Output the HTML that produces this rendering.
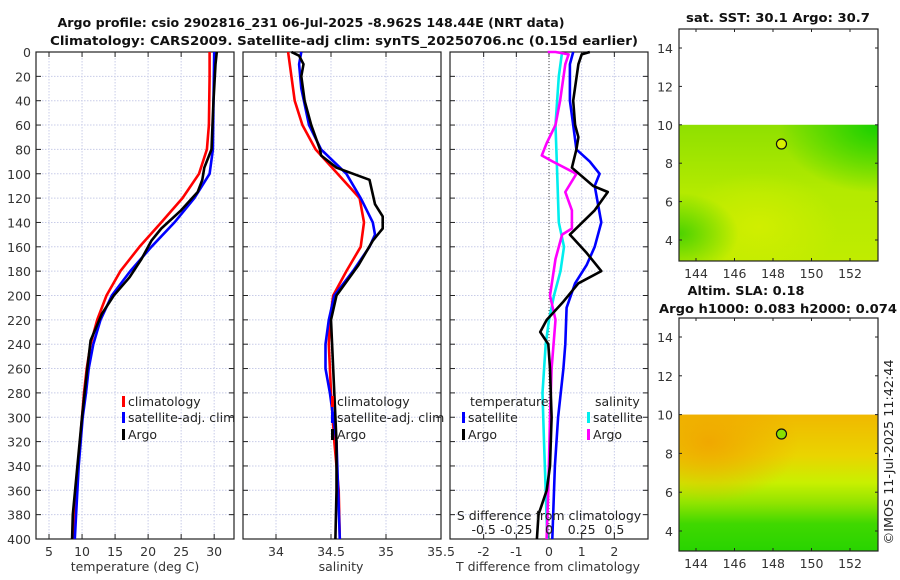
<!DOCTYPE html>
<html><head><meta charset="utf-8">
<style>
html,body{margin:0;padding:0;background:#fff;}
svg{display:block;font-family:"DejaVu Sans","Liberation Sans",sans-serif;}
</style></head>
<body>
<svg id="fig" width="900" height="580" viewBox="0 0 900 580" xmlns="http://www.w3.org/2000/svg">
<defs>
 <linearGradient id="sstg" x1="0" y1="0" x2="0" y2="1">
  <stop offset="0" stop-color="#8fe000"/><stop offset="0.5" stop-color="#b4ea00"/><stop offset="1" stop-color="#c0ec00"/>
 </linearGradient>
 <radialGradient id="sstGreenR" cx="1" cy="0" r="0.5"><stop offset="0" stop-color="#18d000"/><stop offset="1" stop-color="#18d000" stop-opacity="0"/></radialGradient>
 <radialGradient id="sstGreenL" cx="0" cy="0.8" r="0.3"><stop offset="0" stop-color="#30cc00" stop-opacity="0.8"/><stop offset="1" stop-color="#30cc00" stop-opacity="0"/></radialGradient>
 <radialGradient id="sstYel" cx="0.4" cy="0.75" r="0.4"><stop offset="0" stop-color="#d0ee00"/><stop offset="1" stop-color="#d0ee00" stop-opacity="0"/></radialGradient>
 <linearGradient id="slag" x1="0" y1="0" x2="0" y2="1">
  <stop offset="0" stop-color="#f0b800"/><stop offset="0.3" stop-color="#ead400"/><stop offset="0.5" stop-color="#c8f000"/><stop offset="0.65" stop-color="#90e400"/><stop offset="0.8" stop-color="#40d800"/><stop offset="1" stop-color="#28d400"/>
 </linearGradient>
 <radialGradient id="slaOr" cx="0.15" cy="0.2" r="0.45"><stop offset="0" stop-color="#f0a800"/><stop offset="1" stop-color="#f0a800" stop-opacity="0"/></radialGradient>
</defs>
<g id="titles">
 <text x="311" y="27" text-anchor="middle" font-size="12.5" font-weight="bold" fill="#111" textLength="507" lengthAdjust="spacingAndGlyphs">Argo profile: csio 2902816_231 06-Jul-2025 -8.962S 148.44E (NRT data)</text>
 <text x="344" y="45" text-anchor="middle" font-size="12.5" font-weight="bold" fill="#111" textLength="588" lengthAdjust="spacingAndGlyphs">Climatology: CARS2009. Satellite-adj clim: synTS_20250706.nc (0.15d earlier)</text>
</g>
<g id="panels"></g>
<g id="maps"></g>
<text transform="translate(893,452) rotate(-90)" text-anchor="middle" font-size="12.5" fill="#222" textLength="185" lengthAdjust="spacingAndGlyphs">©IMOS 11-Jul-2025 11:42:44</text>
</svg>
<script>
// ---------- data ----------
const depthTicks = [0,20,40,60,80,100,120,140,160,180,200,220,240,260,280,300,320,340,360,380,400];
const tempTicks = [5,10,15,20,25,30];
const salTicks = [34,34.5,35,35.5];
const salTickLabels = ["34","34.5","35","35.5"];
const tdTicks = [-2,-1,0,1,2];
const sdTicks = [-0.5,-0.25,0,0.25,0.5];
const sdTickLabels = ["-0.5","-0.25","0","0.25","0.5"];

const tClimDepth = [0,20,60,80,100,120,140,160,180,200,220,240,260,280,300,340,400];
const tClimVal   = [29.3,29.3,29.2,28.9,27.7,25.2,22,18.7,15.8,13.7,12.3,11.3,10.7,10.3,10,9.4,8.7];
const tSatDepth = [0,40,80,100,120,140,160,180,200,220,240,260,280,300,340,400];
const tSatVal   = [30.0,29.9,29.8,29.3,27,24,20.5,17.3,14.5,12.8,11.7,11,10.6,10.1,9.5,8.9];
const tArgoDepth = [0,10,40,80,95,105,115,130,145,155,170,185,200,215,237,260,300,380,400];
const tArgoVal   = [30.4,30.2,29.9,29.6,28.5,28.2,27.5,25,22,20.5,19,17.2,14.8,13,11.3,10.8,10,8.6,8.5];

const sClimDepth = [0,20,40,60,80,100,120,140,160,180,200,220,240,280,320,360,400];
const sClimVal   = [34.11,34.14,34.17,34.24,34.36,34.56,34.76,34.8,34.77,34.64,34.52,34.49,34.48,34.5,34.53,34.57,34.58];
const sSatDepth = [0,10,30,60,80,100,120,140,150,160,180,200,220,240,260,280,320,400];
const sSatVal   = [34.23,34.21,34.23,34.3,34.41,34.64,34.77,34.88,34.9,34.85,34.7,34.53,34.48,34.45,34.45,34.49,34.55,34.58];
const sArgoDepth = [0,3,10,20,40,60,80,85,95,105,125,135,145,155,175,200,220,260,320,360,400];
const sArgoVal   = [34.14,34.21,34.25,34.23,34.26,34.32,34.4,34.41,34.55,34.85,34.9,34.97,34.97,34.88,34.75,34.55,34.5,34.52,34.55,34.55,34.54];

const dTSatDepth = [0,10,40,60,80,90,100,110,140,160,175,190,210,240,260,300,340,400];
const dTSatVal   = [0.74,0.64,0.64,0.74,0.84,1.25,1.55,1.4,1.6,1.4,1.15,0.8,0.54,0.5,0.44,0.28,0.18,0.1];
const dTArgoDepth = [0,2,10,40,60,70,80,95,110,115,130,150,165,180,190,205,220,230,240,260,300,340,360,380,400];
const dTArgoVal   = [1.25,1.0,0.9,0.74,0.8,0.9,0.84,0.7,1.35,1.8,1.4,0.64,1.15,1.6,0.9,0.44,-0.07,-0.27,-0.02,0.03,0.08,0.03,-0.07,-0.32,-0.37];
const dSSatDepth = [0,20,60,100,140,160,180,200,220,240,280,320,360,400];
const dSSatVal   = [0.1,0.075,0.05,0.063,0.075,0.115,0.088,0.038,0,-0.025,-0.05,-0.038,-0.025,-0.013];
const dSArgoDepth = [0,0,2,10,40,60,75,85,90,100,115,130,145,150,170,200,220,260,300,360,400];
const dSArgoVal   = [-0.01,0.05,0.15,0.125,0.085,0.05,-0.018,-0.055,0.03,0.21,0.125,0.175,0.175,0.1,0.05,0.008,0.05,0.02,0.008,-0.005,-0.018];

// ---------- helpers ----------
const NS = "http://www.w3.org/2000/svg";
function mk(tag, attrs, parent, txt){
  const e = document.createElementNS(NS, tag);
  for (const k in attrs) e.setAttribute(k, attrs[k]);
  if (txt !== undefined) e.textContent = txt;
  parent.appendChild(e); return e;
}
const TOP = 52, BOT = 539;
const FS = 12.5;
const yD = d => TOP + (d/400)*(BOT-TOP);
const panels = document.getElementById('panels');

function panel(name, x0, x1, vmin, vmax){
  const g = mk('g', {}, panels);
  
  
  const sx = v => x0 + (v - vmin)/(vmax - vmin)*(x1 - x0);
  return {g, sx, x0, x1};
}
function frame(p, xticks){
  const g = p.g;
  depthTicks.forEach(d=>{
    const l = mk('line', {x1:p.x0, x2:p.x1, y1:yD(d), y2:yD(d), stroke:'#c8cce8', 'stroke-width':1, 'stroke-dasharray':'1.5,1.5'}, g);
    
    
    mk('line', {x1:p.x0, x2:p.x0+5, y1:yD(d), y2:yD(d), stroke:'#222'}, g);
    mk('line', {x1:p.x1-5, x2:p.x1, y1:yD(d), y2:yD(d), stroke:'#222'}, g);
  });
  xticks.forEach(v=>{
    const x = p.sx(v);
    const l = mk('line', {x1:x, x2:x, y1:TOP, y2:BOT, stroke:'#c8cce8', 'stroke-width':1, 'stroke-dasharray':'1.5,1.5'}, g);
    
    
    mk('line', {x1:x, x2:x, y1:BOT-5, y2:BOT, stroke:'#222'}, g);
    mk('line', {x1:x, x2:x, y1:TOP, y2:TOP+5, stroke:'#222'}, g);
  });
  const r = mk('rect', {x:p.x0, y:TOP, width:p.x1-p.x0, height:BOT-TOP, fill:'none', stroke:'#222', 'stroke-width':1.2}, g);
  
  
}
function xlabels(p, ticks, labels, y){
  ticks.forEach((v,i)=>{
    const t = mk('text', {x:p.sx(v), y:y, 'text-anchor':'middle', 'font-size':FS, fill:'#333'}, p.g, labels ? labels[i] : String(v));
    
    
  });
}
function line(p, sx, vals, depths, color, name, w){
  const pts = vals.map((v,i)=> sx(v).toFixed(1)+','+yD(depths[i]).toFixed(1)).join(' ');
  const pl = mk('polyline', {points:pts, fill:'none', stroke:color, 'stroke-width':w||2.6, 'stroke-linejoin':'round'}, p.g);
  
  
}
function legendEntry(g, x, y, color, label, name){
  const r = mk('rect', {x:x, y:y-10, width:3, height:11, fill:color}, g);
  
  
  const t = mk('text', {x:x+6, y:y, 'font-size':FS, fill:'#222'}, g, label);
  
  
}
const LG1 = 406, LG2 = 422, LG3 = 439;
const TICKY = 556, TITLEY = 571;

// ---- panel 1: temperature ----
const p1 = panel('temperature-panel', 36, 234, 3.03, 33);
frame(p1, tempTicks);
depthTicks.forEach(d=>{
  const t = mk('text', {x:31, y:yD(d)+5, 'text-anchor':'end', 'font-size':FS, fill:'#333'}, p1.g, String(d));
  
  
});
xlabels(p1, tempTicks, null, TICKY);
{const t = mk('text', {x:135, y:TITLEY, 'text-anchor':'middle', 'font-size':FS, fill:'#333'}, p1.g, 'temperature (deg C)');

}
line(p1, p1.sx, tClimVal, tClimDepth, '#ff0000', 'temp-climatology-line');
line(p1, p1.sx, tSatVal, tSatDepth, '#0000ff', 'temp-satellite-line');
line(p1, p1.sx, tArgoVal, tArgoDepth, '#000000', 'temp-argo-line');
{const lg = mk('g', {}, p1.g);


legendEntry(lg, 122, LG1, '#ff0000', 'climatology', 'legend-climatology');
legendEntry(lg, 122, LG2, '#0000ff', 'satellite-adj. clim', 'legend-satellite');
legendEntry(lg, 122, LG3, '#000000', 'Argo', 'legend-argo');}

// ---- panel 2: salinity ----
const p2 = panel('salinity-panel', 243, 441, 33.7, 35.5);
frame(p2, salTicks);
xlabels(p2, salTicks, salTickLabels, TICKY);
{const t = mk('text', {x:341, y:TITLEY, 'text-anchor':'middle', 'font-size':FS, fill:'#333'}, p2.g, 'salinity');

}
line(p2, p2.sx, sClimVal, sClimDepth, '#ff0000', 'sal-climatology-line');
line(p2, p2.sx, sSatVal, sSatDepth, '#0000ff', 'sal-satellite-line');
line(p2, p2.sx, sArgoVal, sArgoDepth, '#000000', 'sal-argo-line');
{const lg = mk('g', {}, p2.g);


legendEntry(lg, 331, LG1, '#ff0000', 'climatology', 'legend-climatology');
legendEntry(lg, 331, LG2, '#0000ff', 'satellite-adj. clim', 'legend-satellite');
legendEntry(lg, 331, LG3, '#000000', 'Argo', 'legend-argo');}

// ---- panel 3: differences ----
const p3 = panel('difference-panel', 450, 648, -3.03, 3.03);
const sxS = v => p3.sx(v*4);
frame(p3, tdTicks);
{const z = mk('line', {x1:p3.sx(0), x2:p3.sx(0), y1:TOP, y2:BOT, stroke:'#444', 'stroke-width':1, 'stroke-dasharray':'1,2'}, p3.g);

}
xlabels(p3, tdTicks, null, TICKY);
{const t = mk('text', {x:548, y:TITLEY, 'text-anchor':'middle', 'font-size':FS, fill:'#333'}, p3.g, 'T difference from climatology');

}
line(p3, sxS, dSSatVal, dSSatDepth, '#00eeee', 'sal-diff-satellite-line');
line(p3, sxS, dSArgoVal, dSArgoDepth, '#ff00ff', 'sal-diff-argo-line');
line(p3, p3.sx, dTSatVal, dTSatDepth, '#0000ff', 'temp-diff-satellite-line');
line(p3, p3.sx, dTArgoVal, dTArgoDepth, '#000000', 'temp-diff-argo-line');
{const t = mk('text', {x:549, y:520, 'text-anchor':'middle', 'font-size':FS, fill:'#222'}, p3.g, 'S difference from climatology');

}
sdTicks.forEach((v,i)=>{
  const t = mk('text', {x:sxS(v), y:534, 'text-anchor':'middle', 'font-size':FS, fill:'#222'}, p3.g, sdTickLabels[i]);
  
  
});
{const lg = mk('g', {}, p3.g);


const t1 = mk('text', {x:470, y:LG1, 'font-size':FS, fill:'#222'}, lg, 'temperature');


const t2 = mk('text', {x:595, y:LG1, 'font-size':FS, fill:'#222'}, lg, 'salinity');


legendEntry(lg, 462, LG2, '#0000ff', 'satellite', 'legend-temp-satellite');
legendEntry(lg, 462, LG3, '#000000', 'Argo', 'legend-temp-argo');
legendEntry(lg, 587, LG2, '#00eeee', 'satellite', 'legend-sal-satellite');
legendEntry(lg, 587, LG3, '#ff00ff', 'Argo', 'legend-sal-argo');}

// ---------- maps ----------
const maps = document.getElementById('maps');
const lonTicks = [144,146,148,150,152];
const latTicks = [4,6,8,10,12,14];
const argoLon = 148.44, argoLat = 9.0;
function mapPanel(name, top, bot, lat14y, lat4y, fills, circleFill){
  const g = mk('g', {}, maps);
  
  
  const x0 = 679, x1 = 878;
  const sx = lon => 696 + (lon-144)*(850-696)/8;
  const sy = lat => lat4y + (lat-4)*(lat14y-lat4y)/10;
  const dataTop = sy(10);
  fills.forEach(f=>{
    const r = mk('rect', {x:x0, y:dataTop, width:x1-x0, height:bot-dataTop, fill:f}, g);
    
    
  });
  latTicks.forEach(l=>{
    const y = sy(l);
    mk('line', {x1:x0, x2:x0+3, y1:y, y2:y, stroke:'#222'}, g);
    mk('line', {x1:x1-3, x2:x1, y1:y, y2:y, stroke:'#222'}, g);
    const t = mk('text', {x:673, y:y+5, 'text-anchor':'end', 'font-size':FS, fill:'#333'}, g, String(l));
    
    
  });
  lonTicks.forEach(l=>{
    const x = sx(l);
    mk('line', {x1:x, x2:x, y1:bot-3, y2:bot, stroke:'#222'}, g);
    mk('line', {x1:x, x2:x, y1:top, y2:top+3, stroke:'#222'}, g);
    const t = mk('text', {x:x, y:bot+17, 'text-anchor':'middle', 'font-size':FS, fill:'#333'}, g, String(l));
    
    
  });
  const r = mk('rect', {x:x0, y:top, width:x1-x0, height:bot-top, fill:'none', stroke:'#222', 'stroke-width':1.2}, g);
  
  
  const c = mk('circle', {cx:sx(argoLon), cy:sy(argoLat), r:5, fill:circleFill, stroke:'#111', 'stroke-width':1.2}, g);
  
  
  return g;
}
mapPanel('sst-map', 29, 261, 48, 240, ['url(#sstg)','url(#sstYel)','url(#sstGreenR)','url(#sstGreenL)'], '#d8f000');
mapPanel('sla-map', 318, 551, 337, 531, ['url(#slag)','url(#slaOr)'], '#88e000');
{const t = mk('text', {x:778, y:22, 'text-anchor':'middle', 'font-size':12.5, 'font-weight':'bold', fill:'#111', textLength:184, lengthAdjust:'spacingAndGlyphs'}, maps, 'sat. SST: 30.1 Argo: 30.7');


const t2 = mk('text', {x:746, y:295, 'text-anchor':'middle', 'font-size':12.5, 'font-weight':'bold', fill:'#111', textLength:117, lengthAdjust:'spacingAndGlyphs'}, maps, 'Altim. SLA: 0.18');


const t3 = mk('text', {x:778, y:313, 'text-anchor':'middle', 'font-size':12.5, 'font-weight':'bold', fill:'#111', textLength:238, lengthAdjust:'spacingAndGlyphs'}, maps, 'Argo h1000: 0.083 h2000: 0.074');

}
</script>
</body></html>
